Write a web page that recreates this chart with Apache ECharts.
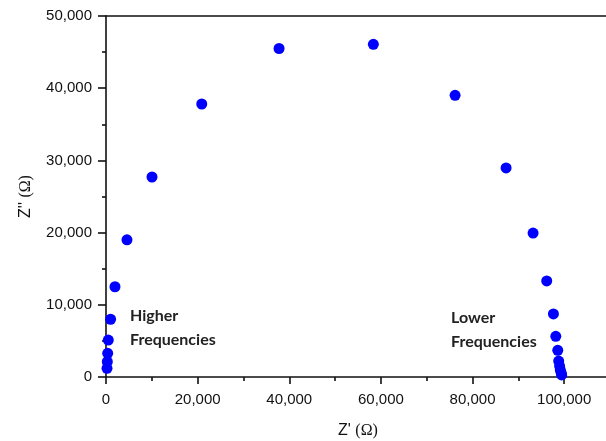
<!DOCTYPE html>
<html>
<head>
<meta charset="utf-8">
<script src="https://cdn.jsdelivr.net/npm/echarts@6/dist/echarts.min.js"></script>
<style>
  html, body { margin: 0; padding: 0; background: #fff; }
  #chart { width: 606px; height: 441px; }
</style>
</head>
<body>
<div id="chart"></div>
<script>
// Nyquist plot: real vs. imaginary impedance, high frequencies near the origin
const zReal = [
  220, 290, 370, 500, 1000, 1960, 4580, 10040, 20900, 37770, 58350,
  76190, 87320, 93210, 96190, 97650, 98170, 98600, 98800, 99000, 99150, 99350, 99450
];
const zImag = [
  1200, 2120, 3280, 5120, 8000, 12500, 19000, 27700, 37810, 45500, 46080,
  39010, 28950, 19940, 13300, 8730, 5640, 3700, 2200, 1520, 970, 550, 280
];

const xTicks = { min: 0, max: 110000, interval: 20000 };
const yTicks = { min: 0, max: 50000, interval: 10000 };

const points = zReal.map((x, i) => [x, zImag[i]]);

const fmt = v => String(v).replace(/\B(?=(\d{3})+(?!\d))/g, ',');
const sansFamily = "'Liberation Sans', Arial, Helvetica, sans-serif";
const serifFamily = "'Liberation Serif', 'Times New Roman', serif";
const labelFont = { color: '#111', fontFamily: sansFamily, fontSize: 15 };
const lineStyle = { color: '#111', width: 1.6 };
const nameRich = {
  a: { fontFamily: sansFamily, fontSize: 16, color: '#111' },
  b: { fontFamily: serifFamily, fontSize: 16, color: '#111' }
};

const chart = echarts.init(document.getElementById('chart'), null, { renderer: 'canvas' });
chart.setOption({
  animation: false,
  backgroundColor: '#fff',
  // the plot box runs a few pixels past the right edge of the canvas
  grid: {
    left: 106, top: 16, width: 504, height: 361,
    containLabel: false,
    outerBoundsMode: 'none'
  },
  xAxis: [{
    type: 'value',
    min: xTicks.min, max: xTicks.max, interval: xTicks.interval,
    position: 'bottom',
    axisLine: { show: true, onZero: false, lineStyle },
    axisTick: { show: true, inside: false, length: 7, lineStyle },
    minorTick: { show: true, splitNumber: 2, length: 4, lineStyle },
    splitLine: { show: false },
    axisLabel: Object.assign({ margin: 15, formatter: fmt }, labelFont),
    name: "{a|Z' }{b|(Ω)}",
    nameLocation: 'middle',
    nameGap: 46,
    nameTextStyle: { rich: nameRich }
  }, {
    type: 'value',
    min: xTicks.min, max: xTicks.max,
    position: 'top',
    axisLine: { show: true, onZero: false, lineStyle },
    axisTick: { show: false },
    axisLabel: { show: false },
    splitLine: { show: false }
  }],
  yAxis: [{
    type: 'value',
    min: yTicks.min, max: yTicks.max, interval: yTicks.interval,
    position: 'left',
    axisLine: { show: true, onZero: false, lineStyle },
    axisTick: { show: true, inside: false, length: 8, lineStyle },
    minorTick: { show: true, splitNumber: 2, length: 4, lineStyle },
    splitLine: { show: false },
    axisLabel: Object.assign({ margin: 14, formatter: fmt }, labelFont),
    name: "{a|Z'' }{b|(Ω)}",
    nameLocation: 'middle',
    nameGap: 72,
    nameTextStyle: { rich: nameRich }
  }, {
    type: 'value',
    min: yTicks.min, max: yTicks.max,
    position: 'right',
    axisLine: { show: true, onZero: false, lineStyle },
    axisTick: { show: false },
    axisLabel: { show: false },
    splitLine: { show: false }
  }],
  series: [{
    type: 'scatter',
    data: points,
    symbol: 'circle',
    symbolSize: 11,
    itemStyle: { color: '#0000ff', opacity: 1 },
    clip: false,
    z: 5
  }],
  graphic: [{
    type: 'text',
    left: 130, top: 304,
    style: {
      text: 'Higher\nFrequencies',
      fontFamily: 'Lato, sans-serif',
      fontWeight: 'bold',
      fontSize: 16,
      lineHeight: 24,
      fill: '#222'
    }
  }, {
    type: 'text',
    left: 451, top: 306,
    style: {
      text: 'Lower\nFrequencies',
      fontFamily: 'Lato, sans-serif',
      fontWeight: 'bold',
      fontSize: 16,
      lineHeight: 24,
      fill: '#222'
    }
  }]
});
</script>
</body>
</html>
